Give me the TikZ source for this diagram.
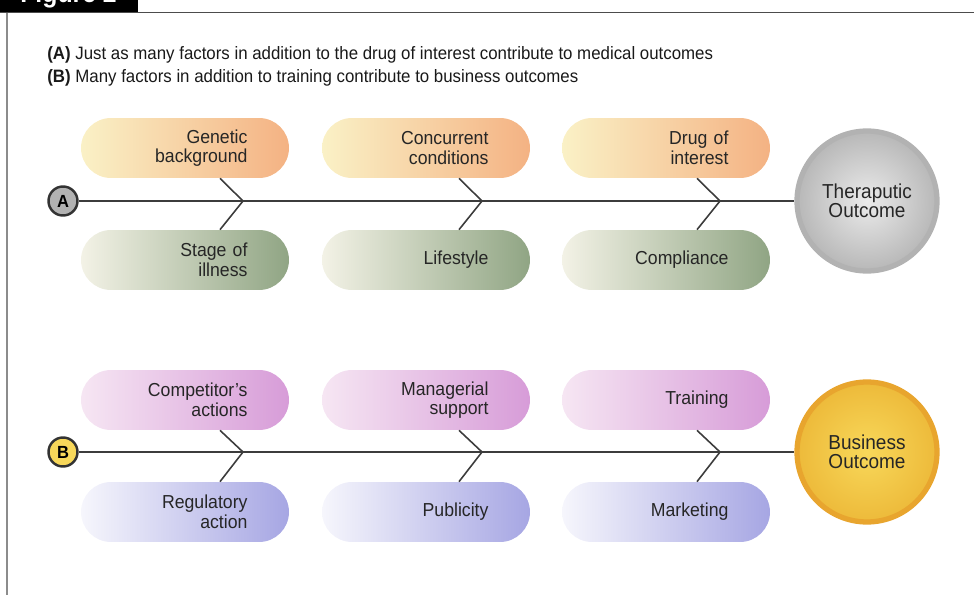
\documentclass[tikz,border=0pt]{standalone}
\usepackage{fontspec}
\setmainfont{Liberation Sans}[FakeStretch=0.94]
\usetikzlibrary{calc}

% colores de las capsulas
\definecolor{naranjaL}{HTML}{FAF1C6}
\definecolor{naranjaR}{HTML}{F4B283}
\definecolor{verdeL}{HTML}{F3F2E6}
\definecolor{verdeR}{HTML}{90A584}
\definecolor{rosaL}{HTML}{F6E6F3}
\definecolor{rosaR}{HTML}{D79CD8}
\definecolor{azulL}{HTML}{F6F6FC}
\definecolor{azulR}{HTML}{A6A6E3}
\definecolor{eje}{HTML}{3C3C3C}
\definecolor{oroC}{HTML}{F8D85A}
\definecolor{oroF}{HTML}{EDBA3A}
\definecolor{oroB}{HTML}{E8A52E}

\tikzset{
  factor/.style={rounded corners=0.6cm, minimum width=4.16cm, minimum height=1.2cm,
    text width=2.5cm, inner xsep=0.83cm, align=right, text=black!85,
    font=\fontsize{10.7}{11.2}\selectfont},
  factorA/.style={factor, left color=naranjaL, right color=naranjaR},
  factorS/.style={factor, left color=verdeL, right color=verdeR},
  factorB/.style={factor, left color=rosaL, right color=rosaR},
  factorR/.style={factor, left color=azulL, right color=azulR},
  letra/.style={circle, draw=black!80, line width=1.4pt, minimum size=0.58cm, inner sep=0pt,
    font=\bfseries\fontsize{10}{10}\selectfont},
  meta/.style={circle, minimum size=2.8cm, inner sep=0pt, align=center, text=black!85,
    font=\fontsize{11.5}{10.8}\selectfont},
  espina/.style={eje, line width=0.9pt}
}

\begin{document}
\begin{tikzpicture}[x=0.02cm,y=-0.02cm]
\useasboundingbox (0,0) rectangle (974,595);

%pestana de la figura y marco
\fill[black] (0,0) rectangle (138,12);
\begin{scope}
  \clip (0,0) rectangle (138,12);
  \node[anchor=base west, text=white, inner sep=0pt, font=\bfseries\fontsize{15}{15}\selectfont] (tab) at (20,3) {Figure 2};
\end{scope}
\draw[black!70, line width=0.8pt] (0,12.5) -- (974,12.5);
\draw[black!45, line width=0.9pt] (7,12.5) -- (7,595);

%titulos
\node[anchor=base west, inner sep=0pt, font=\fontsize{10.2}{10}\selectfont, text=black!90] (tituloA) at (47,59)
  {\textbf{(A)} Just as many factors in addition to the drug of interest contribute to medical outcomes};
\node[anchor=base west, inner sep=0pt, font=\fontsize{10.2}{10}\selectfont, text=black!90] (tituloB) at (47,82)
  {\textbf{(B)} Many factors in addition to training contribute to business outcomes};

%fila A
\node[factorA] (gen) at (185,148) {Genetic\\background};
\node[factorA] (conc) at (426,148) {Concurrent\\conditions};
\node[factorA] (drug) at (666,148) {Drug of\\interest};
\node[factorS] (stage) at (185,260) {Stage of\\illness};
\node[factorS] (life) at (426,260) {Lifestyle};
\node[factorS] (comp) at (666,260) {Compliance};

\node[letra, fill=black!30] (circA) at (63,201) {A};
\node[meta, inner color=black!8, outer color=black!28, draw=black!30, line width=3pt] (ther) at (867,201) {Theraputic\\Outcome};
\draw[eje, line width=1.1pt] (circA) -- (ther);

%fila B
\node[factorB] (compet) at (185,400) {Competitor's\\actions};
\node[factorB] (manag) at (426,400) {Managerial\\support};
\node[factorB] (train) at (666,400) {Training};
\node[factorR] (regul) at (185,512) {Regulatory\\action};
\node[factorR] (publi) at (426,512) {Publicity};
\node[factorR] (mark) at (666,512) {Marketing};

\node[letra, fill=oroC] (circB) at (63,452) {B};
\node[meta, inner color=oroC, outer color=oroF, draw=oroB, line width=3pt] (bus) at (867,452) {Business\\Outcome};
\draw[eje, line width=1.1pt] (circB) -- (bus);

%espinas del pescado
\foreach \arriba/\abajo/\x in {gen/stage/243, conc/life/482, drug/comp/720}
  \draw[espina] (\arriba.south -| {\x-23},0) -- (\x,201) -- (\abajo.north -| {\x-23},0);
\foreach \arriba/\abajo/\x in {compet/regul/243, manag/publi/482, train/mark/720}
  \draw[espina] (\arriba.south -| {\x-23},0) -- (\x,452) -- (\abajo.north -| {\x-23},0);
\end{tikzpicture}
\end{document}
